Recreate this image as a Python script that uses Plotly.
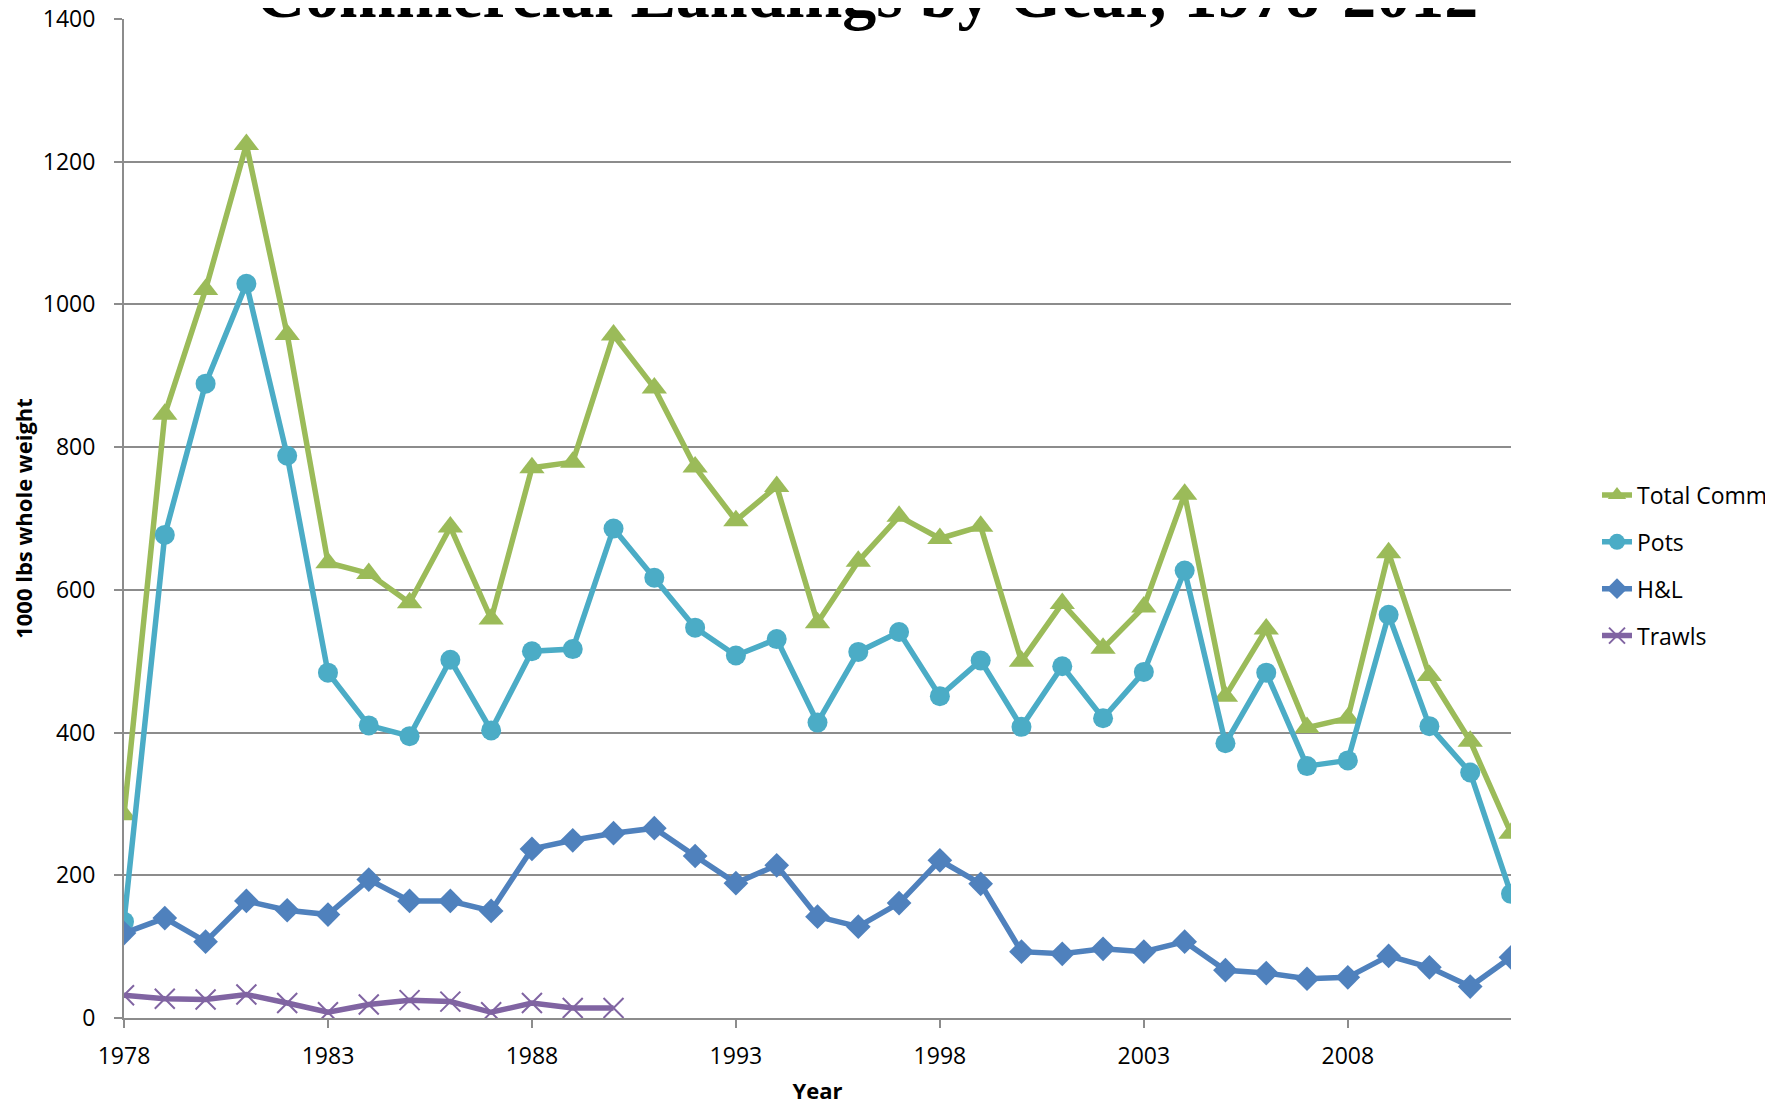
import plotly.graph_objects as go

years = list(range(1978, 2013))

total_comm = [285, 846, 1021, 1224, 958, 638, 623, 582, 688, 559, 771, 779, 957, 883,
              772, 697, 745, 554, 640, 703, 672, 689, 500, 581, 518, 576, 734, 451,
              545, 407, 420, 652, 480, 388, 259]
pots = [135, 677, 889, 1029, 788, 484, 410, 395, 502, 403, 514, 517, 686, 617,
        547, 508, 531, 414, 513, 541, 451, 501, 408, 493, 420, 485, 627, 385,
        484, 353, 361, 565, 409, 344, 174]
hl = [119, 140, 107, 164, 151, 145, 194, 164, 164, 150, 237, 249, 259, 266,
      227, 189, 214, 142, 128, 161, 221, 188, 93, 90, 97, 93, 107, 67,
      63, 55, 57, 87, 71, 44, 85]
trawl_years = list(range(1978, 1991))
trawls = [32, 27, 26, 33, 21, 8, 19, 25, 23, 8, 21, 14, 14]

x_ticks = [1978, 1983, 1988, 1993, 1998, 2003, 2008]
y_ticks = [0, 200, 400, 600, 800, 1000, 1200, 1400]

GREEN = "#9BBB59"
CYAN = "#4BACC6"
BLUE = "#4F81BD"
PURPLE = "#8064A2"
GRID = "#8C8C8C"
FONT = "Open Sans"

fig = go.Figure()
fig.add_trace(go.Scatter(x=years, y=total_comm, name="Total Comm", mode="lines+markers",
                         legendgroup="a",
                         line=dict(color=GREEN, width=5.5),
                         marker=dict(symbol="triangle-up", size=22, color=GREEN)))
fig.add_trace(go.Scatter(x=years, y=pots, name="Pots", mode="lines+markers",
                         legendgroup="b",
                         line=dict(color=CYAN, width=5.5),
                         marker=dict(symbol="circle", size=20, color=CYAN)))
fig.add_trace(go.Scatter(x=years, y=hl, name="H&L", mode="lines+markers",
                         legendgroup="c",
                         line=dict(color=BLUE, width=5.5),
                         marker=dict(symbol="diamond", size=19, color=BLUE)))
fig.add_trace(go.Scatter(x=trawl_years, y=trawls, name="Trawls", mode="lines+markers",
                         legendgroup="d",
                         line=dict(color=PURPLE, width=5.5),
                         marker=dict(symbol="x-thin", size=20, color=PURPLE,
                                     line=dict(color=PURPLE, width=2))))

fig.add_annotation(text="<b>Commercial Landings by Gear, 1978-2012</b>",
                   xref="paper", yref="paper", x=0.536, y=1.025,
                   xanchor="center", yanchor="middle", showarrow=False,
                   font=dict(family="Liberation Serif", size=68, color="black"))

fig.update_layout(
    width=1765, height=1097,
    margin=dict(l=116, r=262, t=11, b=87, autoexpand=False),
    paper_bgcolor="white", plot_bgcolor="white",
    font=dict(family=FONT, size=23, color="black"),
    legend=dict(x=1.062, xanchor="left", y=0.453, yanchor="middle",
                font=dict(family=FONT, size=23, color="black"),
                tracegroupgap=14, bgcolor="rgba(0,0,0,0)"),
    xaxis=dict(range=[1978, 2012], tickvals=x_ticks, ticktext=[str(v) for v in x_ticks],
               showgrid=False, zeroline=False, showline=True, linecolor=GRID, linewidth=2,
               ticks="outside", ticklen=8, tickcolor=GRID, tickwidth=1.5,
               ticklabelstandoff=8, ticklabeloverflow="allow",
               tickfont=dict(family=FONT, size=23),
               title=dict(text="<b>Year</b>", font=dict(family=FONT, size=22), standoff=14),
               automargin=False),
    yaxis=dict(range=[0, 1400], tickvals=y_ticks, showgrid=True, gridcolor=GRID, gridwidth=1.5,
               zeroline=False, showline=True, linecolor=GRID, linewidth=2,
               ticks="outside", ticklen=8, tickcolor=GRID, tickwidth=1.5,
               ticklabelstandoff=14, ticklabeloverflow="allow",
               tickfont=dict(family=FONT, size=23),
               title=dict(text="<b>1000 lbs whole weight</b>", font=dict(family=FONT, size=22),
                          standoff=14),
               automargin=False),
)

fig.write_html("out.html")
